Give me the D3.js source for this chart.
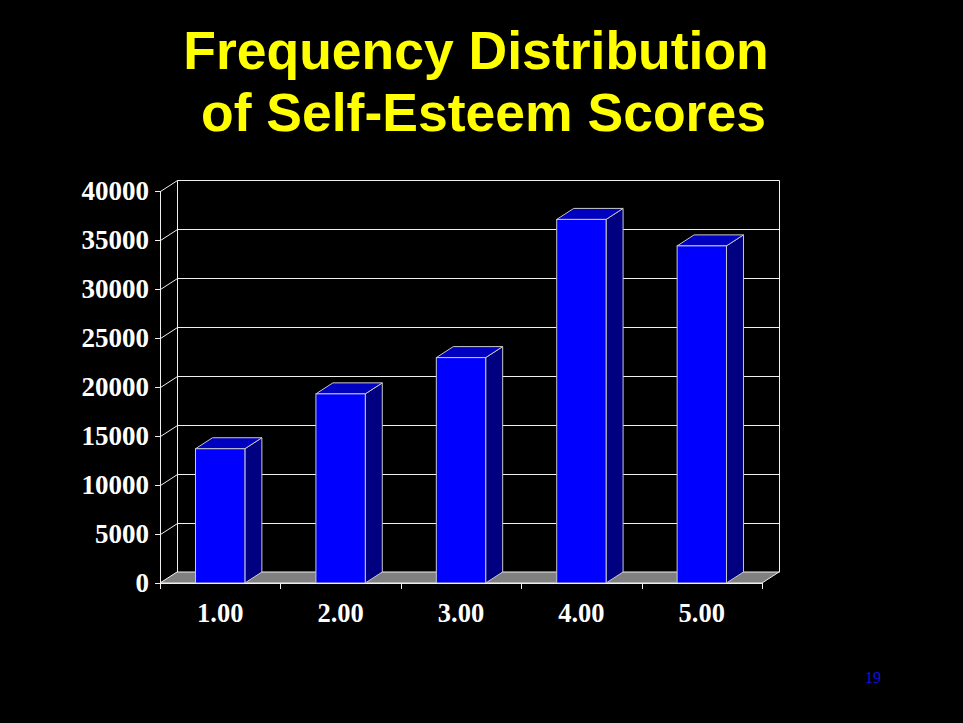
<!DOCTYPE html>
<html>
<head>
<meta charset="utf-8">
<script src="https://cdn.jsdelivr.net/npm/d3@7"></script>
<style>
  html, body { margin: 0; padding: 0; background: #000; }
  svg { display: block; }
</style>
</head>
<body>
<svg id="chart" width="963" height="723"></svg>
<script>
// data
var categories = ["1.00", "2.00", "3.00", "4.00", "5.00"];
var frequencies = [13700, 19300, 23000, 37100, 34400];
var yTicks = [0, 5000, 10000, 15000, 20000, 25000, 30000, 35000, 40000];
var titleLines = ["Frequency Distribution", " of Self-Esteem Scores"];
var pageNumber = "19";

var svg = d3.select("#chart");
svg.append("rect").attr("width", 963).attr("height", 723).attr("fill", "#000");

// title
svg.append("g").selectAll("text")
  .data(titleLines)
  .enter().append("text")
    .attr("x", 476)
    .attr("y", function(d, i) { return 69 + i * 62; })
    .attr("text-anchor", "middle")
    .attr("fill", "#ffff00")
    .style("font-family", "'Liberation Sans', Arial, sans-serif")
    .style("font-weight", "bold")
    .style("font-size", "53.5px")
    .style("white-space", "pre")
    .text(function(d) { return d; });

// plot frame (front plane)
var plotL = 160, plotR = 762, plotB = 583, plotT = 191;
var dx = 17, dy = -11;   // 3d depth offset
var lineCol = "#f0f0f0";

var x = d3.scaleBand().domain(categories).range([plotL, plotR]).padding(0);
var y = d3.scaleLinear().domain([0, 40000]).range([plotB, plotT]);
var barW = x.bandwidth() * 0.41;

var grid = svg.append("g").attr("stroke", lineCol).attr("stroke-width", 1).attr("fill", "none")
  .attr("transform", "translate(0.5,0.5)");

// back wall edges
grid.append("line")
  .attr("x1", plotL + dx).attr("x2", plotL + dx)
  .attr("y1", y(0) + dy).attr("y2", y(40000) + dy);
grid.append("line")
  .attr("x1", plotR + dx).attr("x2", plotR + dx)
  .attr("y1", y(0) + dy).attr("y2", y(40000) + dy);

// gridlines on back wall and diagonals on side
grid.selectAll(".hgrid")
  .data(yTicks.slice(1))
  .enter().append("line")
    .attr("class", "hgrid")
    .attr("x1", plotL + dx).attr("x2", plotR + dx)
    .attr("y1", function(d) { return Math.round(y(d) + dy); })
    .attr("y2", function(d) { return Math.round(y(d) + dy); });
grid.selectAll(".dgrid")
  .data(yTicks)
  .enter().append("line")
    .attr("class", "dgrid")
    .attr("x1", plotL).attr("x2", plotL + dx)
    .attr("y1", function(d) { return Math.round(y(d)); })
    .attr("y2", function(d) { return Math.round(y(d) + dy); });

function pts(arr) { return arr.map(function(p) { return p.join(","); }).join(" "); }

// floor
svg.append("polygon")
  .attr("points", pts([[plotL, y(0)], [plotR, y(0)], [plotR + dx, y(0) + dy], [plotL + dx, y(0) + dy]]))
  .attr("fill", "#808080")
  .attr("stroke", lineCol)
  .attr("stroke-width", 1);

// bars
var bars = svg.append("g").selectAll("g")
  .data(d3.zip(categories, frequencies))
  .enter().append("g");

bars.append("polygon")   // side
  .attr("points", function(d) {
    var x1 = x(d[0]) + (x.bandwidth() + barW) / 2, yt = y(d[1]), yb = y(0);
    return pts([[x1, yb], [x1, yt], [x1 + dx, yt + dy], [x1 + dx, yb + dy]]);
  })
  .attr("fill", "#000080").attr("stroke", "#c8c8c8").attr("stroke-width", 1);

bars.append("polygon")   // top
  .attr("points", function(d) {
    var x0 = x(d[0]) + (x.bandwidth() - barW) / 2, x1 = x0 + barW, yt = y(d[1]);
    return pts([[x0, yt], [x1, yt], [x1 + dx, yt + dy], [x0 + dx, yt + dy]]);
  })
  .attr("fill", "#0000c0").attr("stroke", "#c8c8c8").attr("stroke-width", 1);

bars.append("rect")      // front
  .attr("x", function(d) { return x(d[0]) + (x.bandwidth() - barW) / 2; })
  .attr("y", function(d) { return y(d[1]); })
  .attr("width", barW)
  .attr("height", function(d) { return y(0) - y(d[1]); })
  .attr("fill", "#0000ff").attr("stroke", "#c8c8c8").attr("stroke-width", 1);

// y axis
var yAxis = svg.append("g")
  .attr("transform", "translate(" + plotL + ",0)")
  .call(d3.axisLeft(y).tickValues(yTicks).tickSize(5).tickPadding(6).tickFormat(d3.format("d")));
yAxis.select(".domain").attr("stroke", lineCol).attr("d", "M0.5," + plotT + "V" + (plotB + 6));
yAxis.selectAll(".tick line").attr("stroke", lineCol);
yAxis.selectAll("text")
  .attr("fill", "#fff")
  .style("font-family", "'Liberation Serif', 'Times New Roman', serif")
  .style("font-weight", "bold")
  .style("font-size", "27px");

// x axis
var xAxis = svg.append("g")
  .attr("transform", "translate(0," + plotB + ")")
  .call(d3.axisBottom(x).tickSize(0).tickPadding(20));
xAxis.select(".domain").attr("stroke", lineCol);
xAxis.selectAll("text")
  .attr("fill", "#fff")
  .style("font-family", "'Liberation Serif', 'Times New Roman', serif")
  .style("font-weight", "bold")
  .style("font-size", "26.5px");
xAxis.selectAll(".bound")
  .data(categories.concat(["end"]))
  .enter().append("line")
    .attr("class", "bound")
    .attr("x1", function(d, i) { return Math.round(i < categories.length ? x(d) : plotR) + 0.5; })
    .attr("x2", function(d, i) { return Math.round(i < categories.length ? x(d) : plotR) + 0.5; })
    .attr("y1", 0).attr("y2", 6)
    .attr("stroke", lineCol);

// page number
svg.append("text")
  .attr("x", 873).attr("y", 683)
  .attr("text-anchor", "middle")
  .attr("fill", "#1010e0")
  .style("font-family", "'Liberation Serif', 'Times New Roman', serif")
  .style("font-size", "16px")
  .text(pageNumber);
</script>
</body>
</html>
